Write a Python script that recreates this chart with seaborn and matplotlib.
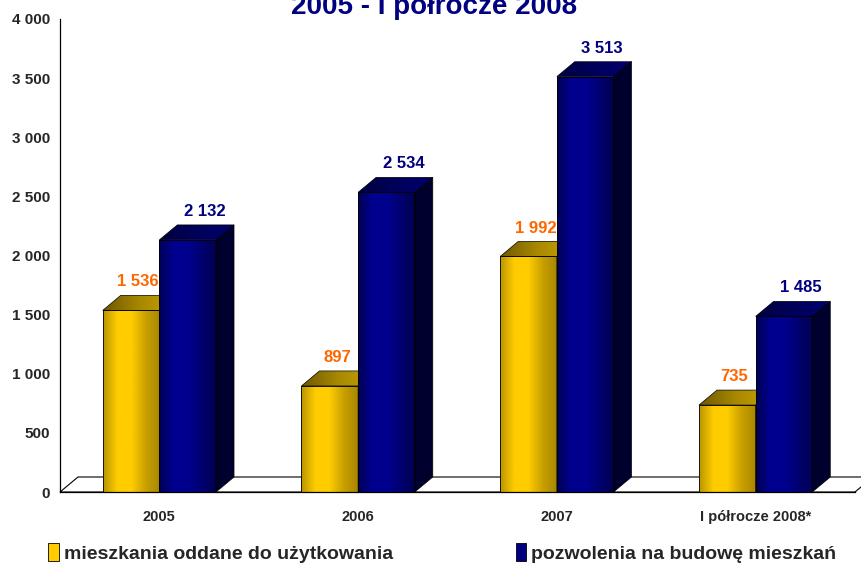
import numpy as np
import pandas as pd
import matplotlib
matplotlib.use("Agg")
import matplotlib.pyplot as plt
import seaborn as sns
from matplotlib.patches import Polygon, Patch
from matplotlib.colors import LinearSegmentedColormap

okresy = ["2005", "2006", "2007", "I półrocze 2008*"]
mieszkania = [1536, 897, 1992, 735]
pozwolenia = [2132, 2534, 3513, 1485]
serie = ["mieszkania oddane do użytkowania", "pozwolenia na budowę mieszkań"]
yticks = [0, 500, 1000, 1500, 2000, 2500, 3000, 3500, 4000]

df = pd.DataFrame({
    "okres": okresy * 2,
    "wartosc": mieszkania + pozwolenia,
    "seria": [serie[0]] * 4 + [serie[1]] * 4,
})

sns.set_style("white")
plt.rcParams["font.family"] = ["Liberation Sans", "DejaVu Sans"]

fig = plt.figure(figsize=(8.62, 5.64), dpi=100)
W, H = 862, 564
ax = fig.add_axes([60 / W, 72 / H, 795 / W, 473 / H])

sns.barplot(data=df, x="okres", y="wartosc", hue="seria", order=okresy,
            palette=["#ffcc00", "#000080"], width=0.57, dodge=True,
            edgecolor="black", linewidth=0.6, legend=False, ax=ax)

ax.set_xlim(-0.5, 3.5)
ax.set_ylim(0, 4000)

# depth of the fake 3D, in data units
dx = 18 / (795 / 4)
dy = 15 * 4000 / 473

front_cm = [
    LinearSegmentedColormap.from_list("y", ["#b89400", "#ffcc00", "#ffcc00", "#c9a000", "#a88600"]),
    LinearSegmentedColormap.from_list("b", ["#000055", "#00008f", "#000090", "#000070", "#000050"]),
]
top_cm = [
    LinearSegmentedColormap.from_list("yt", ["#6e5800", "#a88900", "#c9a300"]),
    LinearSegmentedColormap.from_list("bt", ["#000040", "#00005a", "#000070"]),
]
side_col = ["#6e5800", "#00002e"]
label_col = ["#ff6600", "#000080"]
label_shift = [0.4, 0.95]

grad = np.linspace(0, 1, 256).reshape(1, -1)
bars = list(ax.patches)
for i, p in enumerate(bars):
    s = i // 4
    z = 2 + s
    x0, w, h = p.get_x(), p.get_width(), p.get_height()
    x1 = x0 + w
    # front face gradient
    im = ax.imshow(grad, extent=[x0, x1, 0, h], aspect="auto", cmap=front_cm[s],
                   zorder=z, interpolation="bilinear")
    im.set_clip_path(p)
    p.set_facecolor("none")
    p.set_zorder(z + 0.2)
    # top face
    top = Polygon([(x0, h), (x1, h), (x1 + dx, h + dy), (x0 + dx, h + dy)],
                  closed=True, facecolor="none", edgecolor="black", lw=0.5, zorder=z + 0.1)
    ax.add_patch(top)
    imt = ax.imshow(grad, extent=[x0, x1 + dx, h, h + dy], aspect="auto", cmap=top_cm[s],
                    zorder=z, interpolation="bilinear")
    imt.set_clip_path(top)
    # side face
    side = Polygon([(x1, 0), (x1 + dx, dy), (x1 + dx, h + dy), (x1, h)],
                   closed=True, facecolor=side_col[s], edgecolor="black", lw=0.5, zorder=z)
    ax.add_patch(side)
    # value label
    txt = f"{int(round(h)):,}".replace(",", " ")
    ax.text(x0 + w / 2 + dx * label_shift[s], h + dy + 50, txt, ha="center", va="bottom",
            color=label_col[s], fontsize=12, fontweight="bold", zorder=10)

# floor
floor = Polygon([(-0.5, 0), (3.5, 0), (3.5 + dx, dy), (-0.5 + dx, dy)], closed=True,
                facecolor="white", edgecolor="black", lw=0.8, zorder=1, clip_on=False)
ax.add_patch(floor)

ax.set_xlim(-0.5, 3.5)
ax.set_ylim(0, 4000)
sns.despine(ax=ax, top=True, right=True)
for sp in ["left", "bottom"]:
    ax.spines[sp].set_color("black")
    ax.spines[sp].set_linewidth(0.9)
    ax.spines[sp].set_zorder(20)

ax.set_yticks(yticks)
ax.set_yticklabels([f"{v:,}".replace(",", " ") for v in yticks], fontsize=11, fontweight="bold")
ax.set_xticks(range(4))
ax.set_xticklabels(okresy, fontsize=10.5, fontweight="bold")
ax.set_xticks(np.arange(-0.5, 4, 1), minor=True)
ax.tick_params(axis="x", which="major", length=0, pad=13)
ax.tick_params(axis="x", which="minor", length=8, width=0.8, direction="out", color="black")
ax.tick_params(axis="y", length=5, width=0.8, direction="out", color="black", pad=2)
ax.set_xlabel("")
ax.set_ylabel("")

fig.text(434 / W, 1 - 14 / H, "2005 - I półrocze 2008", ha="center", va="baseline",
         color="#000080", fontsize=20, fontweight="bold")

handles = [Patch(facecolor="#ffcc00", edgecolor="black", lw=0.6, label=serie[0]),
           Patch(facecolor="#000080", edgecolor="black", lw=0.6, label=serie[1])]
fig.legend(handles=handles, loc="center left", bbox_to_anchor=(31 / W, 1 - 553 / H),
           ncol=2, frameon=False, handlelength=0.55, handleheight=1.0, handletextpad=0.25,
           columnspacing=6.3, prop={"weight": "bold", "size": 14})

fig.savefig("out.png", dpi=100)
